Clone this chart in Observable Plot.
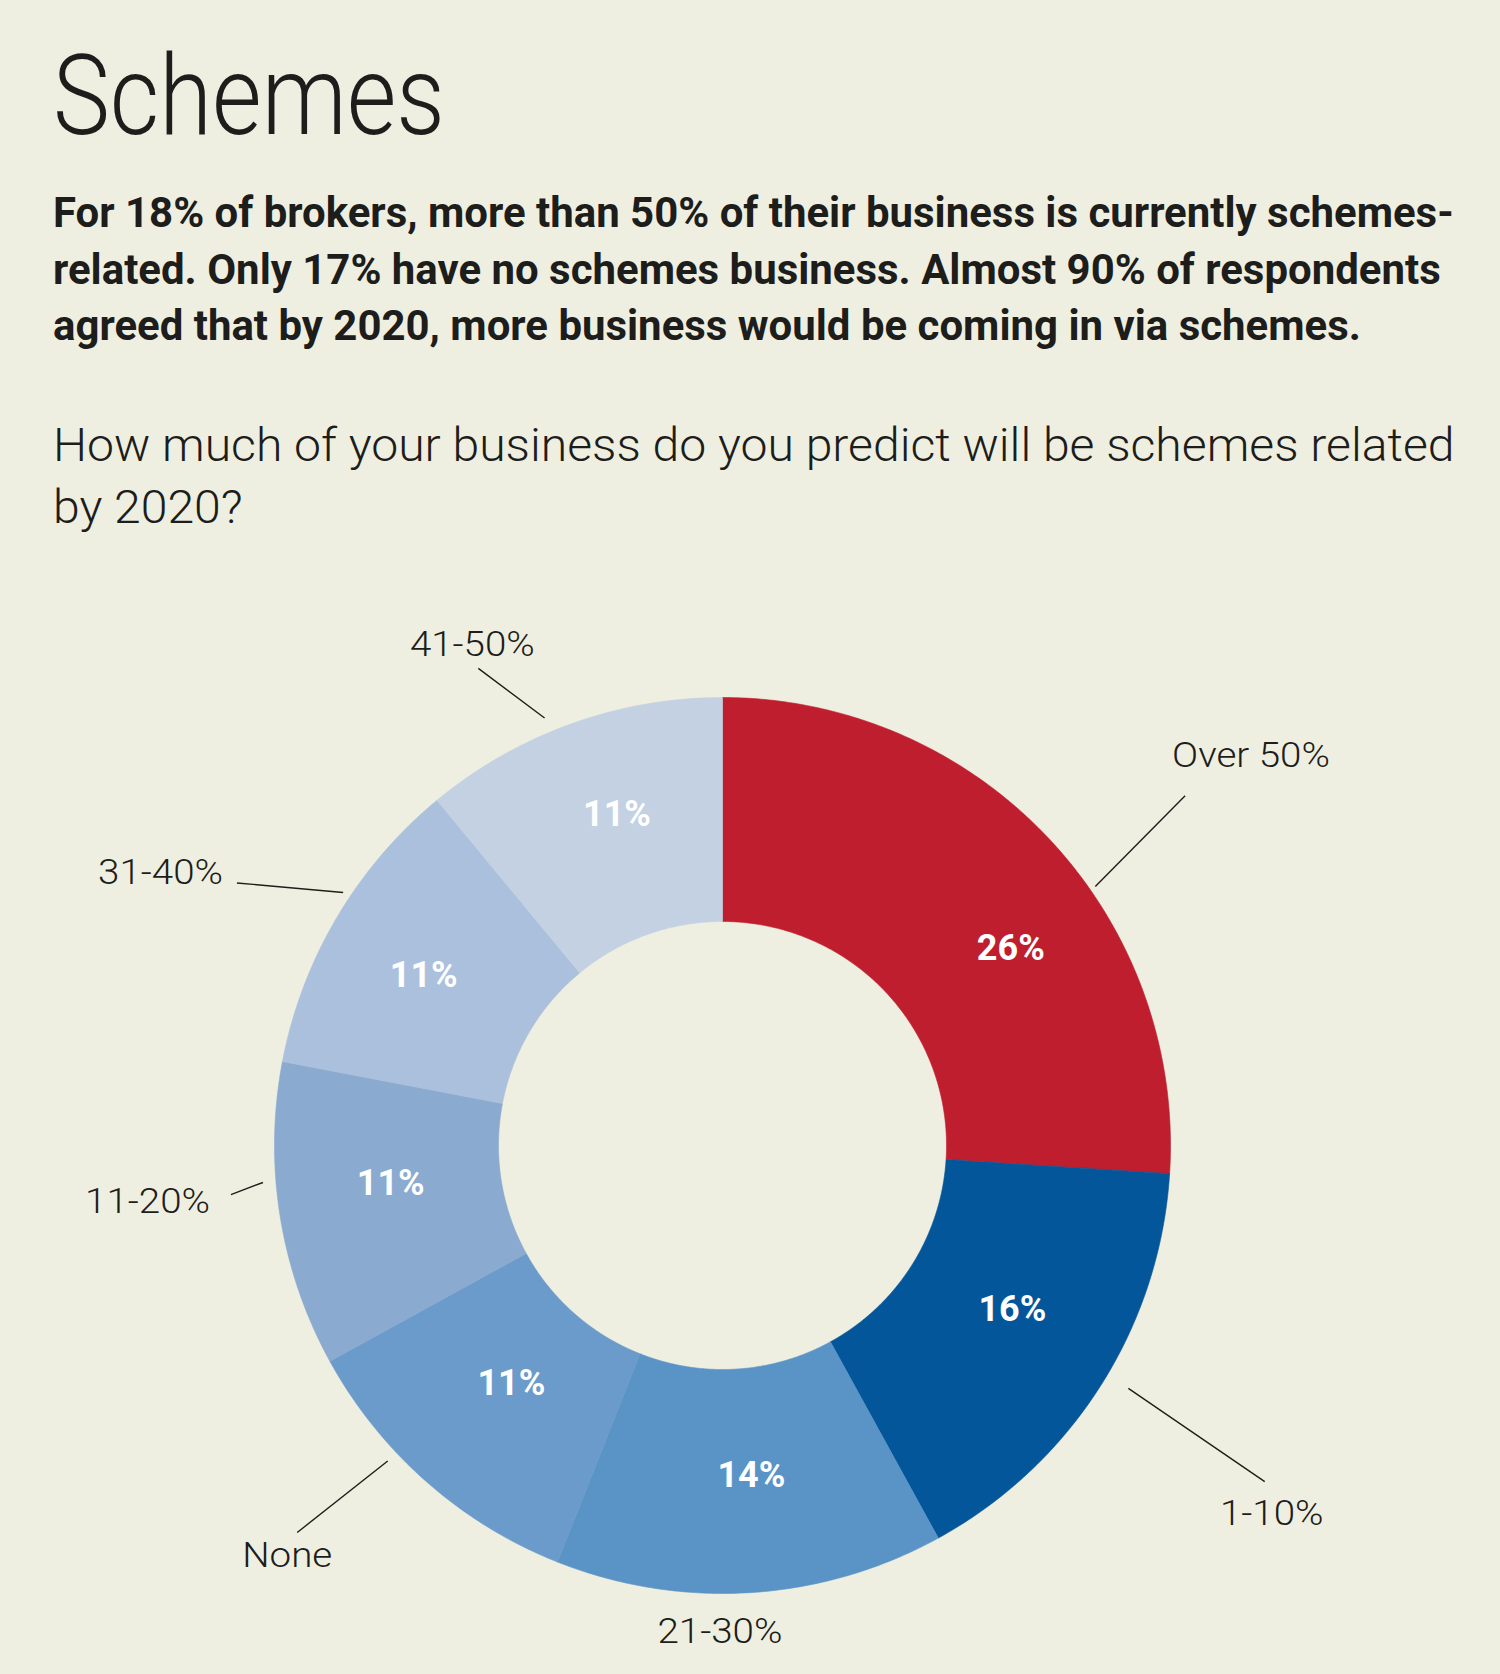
<!DOCTYPE html>
<html>
<head>
<meta charset="utf-8">
<script src="https://cdn.jsdelivr.net/npm/d3@7"></script>
<script src="https://cdn.jsdelivr.net/npm/@observablehq/plot@0.6"></script>
<style>
  html, body { margin: 0; padding: 0; background: #EFEFE1; }
  #page { position: relative; width: 1500px; height: 1674px; overflow: hidden; background: #EFEFE1; }
  #header { position: absolute; left: 0; top: 0; }
  #chart { position: absolute; left: 0; top: 570px; }
  #header text { font-family: Roboto, "Open Sans", sans-serif; fill: #1d1d1b; }
</style>
</head>
<body>
<div id="page">
  <svg id="header" width="1500" height="570"></svg>
  <div id="chart"></div>
</div>
<script>
// ---------------- data ----------------
const categories  = ["Over 50%", "1-10%", "21-30%", "None", "11-20%", "31-40%", "41-50%"];
const values      = [26, 16, 14, 11, 11, 11, 11];
const valueLabels = ["26%", "16%", "14%", "11%", "11%", "11%", "11%"];
const colors      = ["#BF1E2E", "#03569A", "#5A93C6", "#6B9BCB", "#8AAAD0", "#ABC0DC", "#C3D1E3"];

const titleText = "Schemes";
const introLines = [
  "For 18% of brokers, more than 50% of their business is currently schemes-",
  "related. Only 17% have no schemes business. Almost 90% of respondents",
  "agreed that by 2020, more business would be coming in via schemes."
];
const questionLines = [
  "How much of your business do you predict will be schemes related",
  "by 2020?"
];

// ---------------- layout (annotation placement, not data) ----------------
const R_OUT = 448, R_IN = 224;
// leader: angle nudges (deg) from slice mid-angle and radii (px); text offsets from leader end;
// vda / vr: value-label angle nudge and radius
const annot = {
  "Over 50%": {leader: true,  da0: 8.4,  r0: 454, da1: 6.1,  r1: 580, anchor: "start",  dx: -13, dy: -29, vda: 8.9,  vr: 349},
  "1-10%":    {leader: true,  da0: -1.5, r0: 473, da1: -0.6, r1: 638, anchor: "middle", dx: 7,   dy: 43,  vda: -2.9, vr: 333},
  "21-30%":   {leader: false, da0: 0,    r0: 0,   da1: 3.9,  r1: 498, anchor: "middle", dx: 0,   dy: 0,   vda: -1.4, vr: 331},
  "None":     {leader: true,  da0: 5.3,  r0: 460, da1: 6.3,  r1: 575, anchor: "middle", dx: -10, dy: 35,  vda: 0.2,  vr: 318},
  "11-20%":   {leader: true,  da0: 4.4,  r0: 461, da1: 3.3,  r1: 494, anchor: "end",    dx: -21, dy: 18,  vda: 2.4,  vr: 334},
  "31-40%":   {leader: true,  da0: 3.1,  r0: 456, da1: -2.2, r1: 552, anchor: "end",    dx: -14, dy: 1,   vda: -0.9, vr: 344},
  "41-50%":   {leader: true,  da0: -2.8, r0: 463, da1: -7.3, r1: 536, anchor: "middle", dx: -6,  dy: -12, vda: 2.1,  vr: 347}
};

// ---------------- header ----------------
const header = d3.select("#header");
function textBlock(lines, {x, baselines, size, weight, target}) {
  const els = lines.map((t) => header.append("text")
    .attr("font-size", size).attr("font-weight", weight).text(t));
  const natural = els[0].node().getComputedTextLength();
  const k = target / natural;
  els.forEach((e, i) => e.attr("transform", `translate(${x},${baselines[i]}) scale(${k},1)`));
}
textBlock([titleText], {x: 53, baselines: [134], size: 112, weight: 300, target: 392});
textBlock(introLines, {x: 53, baselines: [227, 284, 340], size: 43, weight: 700, target: 1401});
textBlock(questionLines, {x: 53, baselines: [461, 523], size: 47, weight: 300, target: 1402});

// ---------------- donut geometry ----------------
const total = d3.sum(values);
const deg = Math.PI / 180;
let acc = 0;
const slices = categories.map((c, i) => {
  const a0 = acc / total * 2 * Math.PI;
  acc += values[i];
  const a1 = acc / total * 2 * Math.PI;
  return {cat: c, a0, a1, mid: (a0 + a1) / 2, value: values[i], label: valueLabels[i]};
});
const polar = (a, r) => ({x: r * Math.sin(a), y: -r * Math.cos(a)});

const ringPts = [];
for (const s of slices) {
  const n = Math.max(2, Math.ceil((s.a1 - s.a0) / (0.5 * deg)));
  const seq = d3.range(n + 1).map((k) => s.a0 + (s.a1 - s.a0) * k / n);
  for (const a of seq) ringPts.push({cat: s.cat, ...polar(a, R_OUT)});
  for (const a of seq.slice().reverse()) ringPts.push({cat: s.cat, ...polar(a, R_IN)});
  ringPts.push({cat: s.cat, ...polar(s.a0, R_OUT)});
}

const valuePts = slices.map((s) => ({label: s.label, ...polar(s.mid + annot[s.cat].vda * deg, annot[s.cat].vr)}));

const leaders = slices.filter((s) => annot[s.cat].leader).map((s) => {
  const A = annot[s.cat];
  const p0 = polar(s.mid + A.da0 * deg, A.r0), p1 = polar(s.mid + A.da1 * deg, A.r1);
  return {x1: p0.x, y1: p0.y, x2: p1.x, y2: p1.y};
});
const outerLabels = slices.map((s) => {
  const A = annot[s.cat];
  const p = polar(s.mid + A.da1 * deg, A.r1);
  return {text: s.cat, anchor: A.anchor, x: p.x + A.dx, y: p.y + A.dy};
});

const outerText = (anchor) => Plot.text(outerLabels.filter((d) => d.anchor === anchor), {
  x: "x", y: "y", text: "text", textAnchor: anchor, lineAnchor: "bottom",
  fontSize: 35, fontWeight: 300, fill: "#1d1d1b"
});

const chart = Plot.plot({
  width: 1500,
  height: 1104,
  margin: 0,
  x: {type: "linear", domain: [-722, 778], range: [0, 1500], axis: null},
  y: {type: "linear", domain: [-575, 529], range: [0, 1104], axis: null},
  color: {domain: categories, range: colors},
  style: {background: "transparent", fontFamily: "Roboto, 'Open Sans', sans-serif"},
  marks: [
    Plot.line(ringPts, {x: "x", y: "y", z: "cat", fill: "cat", stroke: "cat", strokeWidth: 0.6, curve: "linear"}),
    Plot.text(valuePts, {x: "x", y: "y", text: "label", fill: "white", fontSize: 36, fontWeight: "bold"}),
    Plot.link(leaders, {x1: "x1", y1: "y1", x2: "x2", y2: "y2", stroke: "#1d1d1b", strokeWidth: 1.4}),
    outerText("start"),
    outerText("middle"),
    outerText("end")
  ]
});
document.getElementById("chart").appendChild(chart);

// widen the light outer labels slightly to match the reference face
d3.select(chart).selectAll("text").each(function () {
  const t = this.textContent;
  if (categories.includes(t)) {
    const tr = this.getAttribute("transform") || "";
    this.setAttribute("transform", tr + " scale(1.1,1)");
  }
});
</script>
</body>
</html>
